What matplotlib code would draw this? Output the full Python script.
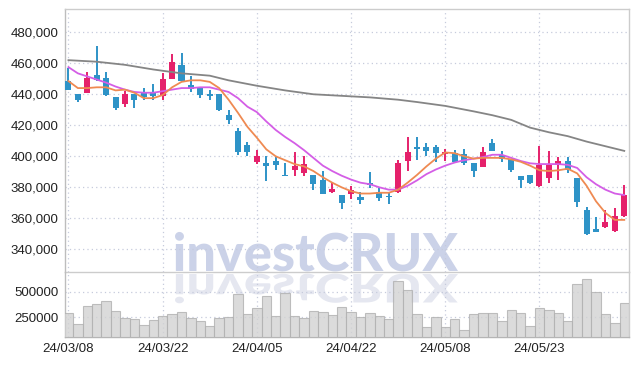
import numpy as np
import matplotlib.pyplot as plt
from matplotlib.textpath import TextPath
from matplotlib.patches import PathPatch
from matplotlib.font_manager import FontProperties
from matplotlib.transforms import Affine2D, IdentityTransform
from matplotlib.ticker import FuncFormatter

plt.rcParams['font.family'] = ['Liberation Sans', 'DejaVu Sans']

# daily candles (KRW), 60 trading days from 24/03/08
opens = [448500, 440000, 441000, 452500, 450500, 438000, 434000, 440000, 441000, 441500,
         439000, 450000, 459000, 446000, 444000, 440500, 440000, 426500, 416500, 407000,
         396500, 396000, 397000, 387500, 391000, 389500, 388000, 385000, 377000, 375000,
         376000, 374000, 383000, 377000, 374000, 377000, 397000, 406000, 406000, 406000,
         401500, 402000, 401500, 396000, 393000, 408500, 401000, 398500, 387500, 388000,
         381000, 386000, 394500, 397000, 386000, 365500, 353000, 354500, 352000, 361500]
highs = [457000, 440000, 454500, 471000, 454500, 438000, 442000, 440000, 444000, 446500,
         453500, 466000, 466500, 452000, 444000, 443000, 440000, 430000, 418500, 409000,
         404000, 400000, 399500, 396000, 402500, 400000, 388000, 390500, 382500, 375000,
         381000, 377000, 390000, 379500, 377000, 397500, 412500, 412500, 408500, 407500,
         405000, 404000, 404500, 396000, 406000, 411000, 403500, 398500, 387500, 388000,
         406500, 403500, 399500, 399500, 386000, 367500, 361000, 365500, 366500, 381500]
lows = [442500, 435000, 441000, 448500, 439000, 430000, 432000, 431000, 436500, 436500,
        436500, 450000, 448500, 441500, 437500, 436500, 429000, 421000, 401000, 400000,
        395000, 384000, 391000, 387000, 387500, 387000, 378000, 375500, 376500, 366000,
        372500, 369000, 379500, 371500, 369000, 376500, 390500, 397500, 400000, 396500,
        397000, 396500, 394500, 386500, 393000, 403500, 396500, 390000, 379500, 382000,
        380000, 383000, 385000, 389000, 367000, 349500, 351500, 354000, 351500, 361000]
closes = [443000, 436000, 450500, 449000, 439500, 431000, 440000, 436500, 438500, 439000,
          450000, 460500, 448500, 443500, 439500, 439000, 430000, 423500, 403000, 402500,
          400500, 394000, 394500, 387000, 393500, 395000, 382000, 375500, 379000, 370000,
          378500, 372000, 381500, 373000, 373500, 395500, 402500, 405000, 403500, 402000,
          402500, 396500, 396000, 390500, 403000, 403500, 398000, 391000, 384500, 383000,
          394500, 394500, 397000, 391000, 370500, 350000, 351500, 357500, 361500, 375000]
volumes = [294000, 184000, 364000, 384000, 414000, 314000, 244000, 230000, 174000, 224000,
           264000, 284000, 304000, 244000, 214000, 164000, 244000, 254000, 484000, 284000,
           344000, 464000, 264000, 494000, 264000, 244000, 314000, 304000, 274000, 354000,
           304000, 250000, 290000, 264000, 234000, 610000, 524000, 284000, 150000, 250000,
           154000, 230000, 120000, 284000, 290000, 290000, 214000, 320000, 290000, 164000,
           344000, 320000, 290000, 214000, 584000, 634000, 504000, 284000, 194000, 394000]

# moving average lines
ma_short = [448500, 444000, 444000, 444500, 444500, 442500, 443000, 441000, 437500, 437500,
            439500, 444500, 448000, 449000, 449000, 448000, 444000, 436500, 428000, 419000,
            412000, 404500, 400000, 397500, 395000, 393500, 390500, 386500, 383000, 380000,
            377500, 376000, 376000, 376500, 376500, 378500, 383000, 388000, 393500, 398500,
            402500, 402000, 400000, 398500, 399000, 399000, 399000, 398000, 396500, 394000,
            391000, 390500, 391000, 392000, 389000, 381000, 371000, 363500, 359000, 359000]
ma_mid = [457500, 453500, 451500, 449500, 447500, 445000, 443000, 441500, 441000, 441000,
          442000, 443000, 444000, 444000, 444500, 444500, 443000, 441500, 437500, 432000,
          428500, 422500, 417000, 412500, 408500, 404000, 399000, 394000, 390500, 387500,
          385000, 383000, 382000, 380000, 378500, 378500, 381000, 384500, 388500, 391500,
          394000, 396000, 397500, 398500, 399500, 401000, 401000, 399000, 397000, 395500,
          395000, 395000, 395000, 394500, 392500, 386500, 382000, 378500, 376000, 375000]
ma_long_idx = [0, 3, 6, 9, 12, 15, 17, 20, 23, 26, 29, 32, 35, 37, 40, 43, 45, 47, 49,
               51, 53, 55, 57, 59]
ma_long = [462000, 461000, 459000, 456000, 453500, 452000, 449000, 445500, 442500, 440000,
           439000, 438000, 436500, 435000, 432500, 429000, 426500, 423500, 418500, 415500,
           413000, 409500, 406500, 403500]

tick_pos = [0, 10, 20, 30, 40, 50]
tick_labels = ['24/03/08', '24/03/22', '24/04/05', '24/04/22', '24/05/08', '24/05/23']

UP = '#e5216b'
DOWN = '#2e93c7'
GRID = '#c6cbdc'

fig = plt.figure(figsize=(6.38, 3.66), dpi=100)
fig.patch.set_facecolor('white')
left, right = 64.5 / 638, 628.5 / 638
ax = fig.add_axes([left, 1 - 272 / 366, right - left, (272 - 9.3) / 366])
axv = fig.add_axes([left, 1 - 337 / 366, right - left, (337 - 272) / 366], sharex=ax)
for a in (ax, axv):
    a.set_facecolor('none')

# watermark and its reflection, in pixel space behind the axes
fp = FontProperties(family=['Lato', 'Liberation Sans'], weight='black')
tp = TextPath((0, 0), 'investCRUX', size=100, prop=fp)
ext = tp.get_extents()
sc = 283 / ext.width
base_y = 366 - 272
wm = PathPatch(tp, transform=Affine2D().translate(-ext.x0, 0).scale(sc, sc).translate(175, base_y + 1) + IdentityTransform(),
               facecolor='#cbd2e8', edgecolor='none', zorder=-2)
wr = PathPatch(tp, transform=Affine2D().translate(-ext.x0, 0).scale(sc, -sc * 0.75).translate(175, base_y - 2) + IdentityTransform(),
               facecolor='#e5e7f0', edgecolor='none', zorder=-2)
fig.add_artist(wm)
fig.add_artist(wr)

x = np.arange(len(closes))
o = np.array(opens)
c = np.array(closes)
colors = np.where(c >= o, UP, DOWN)
ax.vlines(x, lows, highs, colors=colors, linewidth=1.4, zorder=3)
ax.bar(x, np.maximum(np.abs(c - o), 700), bottom=np.minimum(o, c), width=0.64,
       color=colors, linewidth=0, zorder=4)

ax.plot(ma_long_idx, ma_long, color='#858585', linewidth=1.3, zorder=5)
ax.plot(x, ma_mid, color='#d45ee6', linewidth=1.3, zorder=5)
ax.plot(x, ma_short, color='#ef8a52', linewidth=1.3, zorder=6)

axv.bar(x, volumes, width=1.0, color='#d2d2d2', alpha=0.8, edgecolor='#b0b0b0',
        linewidth=0.8, zorder=3)

ax.set_xlim(-0.42, 59.45)
ax.set_ylim(325400, 494800)
axv.set_ylim(50000, 700000)

ax.set_yticks([340000, 360000, 380000, 400000, 420000, 440000, 460000, 480000])
ax.yaxis.set_major_formatter(FuncFormatter(lambda v, p: f'{v:,.0f}'))
axv.set_yticks([250000, 500000])
axv.yaxis.set_major_formatter(FuncFormatter(lambda v, p: f'{v:.0f}'))
axv.set_xticks(tick_pos)
axv.set_xticklabels(tick_labels)

for a in (ax, axv):
    a.grid(True, color=GRID, linestyle=(0, (1, 2.5)), linewidth=0.9, zorder=0)
    a.set_axisbelow(True)
    a.tick_params(axis='both', length=0, labelsize=9.5, labelcolor='#222222', pad=4.5)
    for s in a.spines.values():
        s.set_color('#cccccc')
        s.set_linewidth(1.0)
ax.tick_params(axis='x', labelbottom=False)
axv.spines['top'].set_visible(False)
axv.spines['left'].set_color('#bdbdbd')
ax.spines['left'].set_color('#bdbdbd')
axv.spines['bottom'].set_color('#b5b5b5')

fig.savefig('out.png', dpi=100)
